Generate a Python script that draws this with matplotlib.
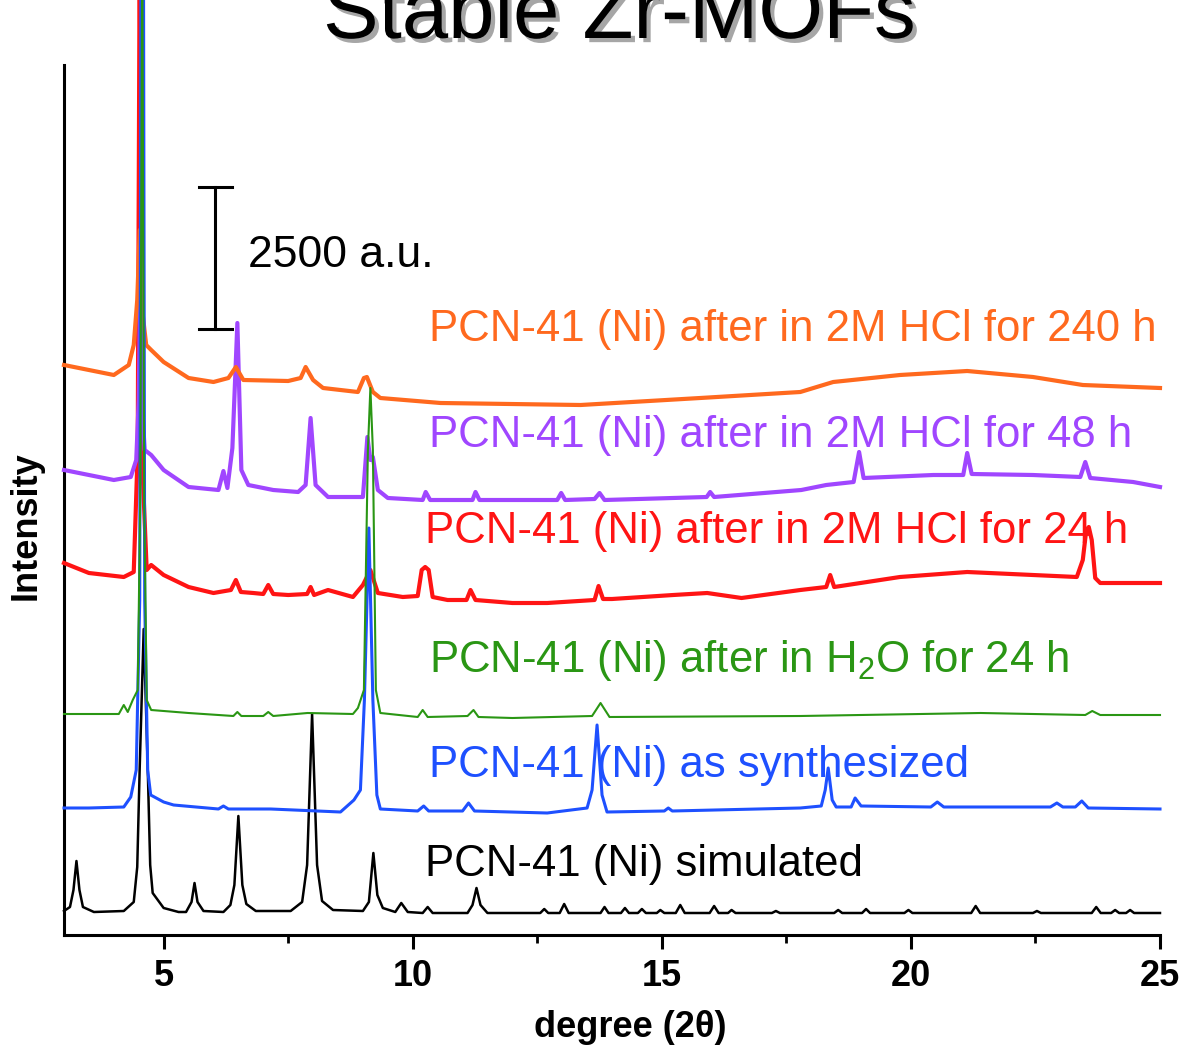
import matplotlib

matplotlib.use("Agg")
import matplotlib.patheffects as pe
import matplotlib.pyplot as plt
from matplotlib.ticker import MultipleLocator

plt.rcParams["font.family"] = ["Liberation Sans", "DejaVu Sans"]
plt.rcParams["mathtext.fontset"] = "custom"
plt.rcParams["mathtext.rm"] = "Liberation Sans"

# Stacked PXRD patterns as (2theta, intensity) points.
# Intensity is in plot units; the scale bar (142 units) is 2500 a.u.
# Apex values above ~935 are peaks that run off the top of the slide.
sim_pts = [
    (3.0, 24), (3.12, 28), (3.19, 45), (3.25, 74), (3.31, 45), (3.38, 28), (3.6, 23),
    (4.2, 24), (4.40, 33), (4.47, 68), (4.52, 168), (4.60, 306), (4.68, 168), (4.73, 70),
    (4.78, 42), (5.0, 27), (5.3, 23), (5.45, 23), (5.56, 33), (5.62, 52), (5.68, 33),
    (5.8, 24), (6.2, 23), (6.34, 30), (6.42, 50), (6.50, 119), (6.58, 50), (6.66, 31),
    (6.85, 24), (7.55, 24), (7.78, 33), (7.88, 70), (7.98, 221), (8.08, 70), (8.18, 34),
    (8.4, 25), (9.0, 24), (9.12, 33), (9.21, 82), (9.29, 40), (9.4, 27), (9.65, 23),
    (9.77, 32), (9.9, 23), (10.2, 22), (10.30, 28), (10.4, 22), (11.1, 22), (11.2, 30),
    (11.28, 47), (11.36, 30), (11.5, 22), (12.56, 22), (12.64, 26), (12.72, 22),
    (12.95, 22), (13.04, 31), (13.13, 22), (13.77, 22), (13.85, 28), (13.93, 22),
    (14.18, 22), (14.26, 27), (14.34, 22), (14.52, 22), (14.6, 26), (14.68, 22),
    (14.9, 22), (14.97, 25), (15.05, 22), (15.28, 22), (15.37, 30), (15.46, 22),
    (15.96, 22), (16.05, 29), (16.14, 22), (16.33, 22), (16.4, 25), (16.48, 22),
    (17.21, 22), (17.29, 24), (17.37, 22), (18.46, 22), (18.54, 25), (18.62, 22),
    (19.02, 22), (19.1, 26), (19.18, 22), (19.87, 22), (19.95, 25), (20.03, 22),
    (21.21, 22), (21.3, 29), (21.39, 22), (22.45, 22), (22.53, 24), (22.61, 22),
    (23.63, 22), (23.72, 28), (23.81, 22), (24.02, 22), (24.1, 25), (24.18, 22),
    (24.32, 22), (24.4, 25), (24.48, 22), (25.0, 22),
]

synth_pts = [
    (3.0, 127), (3.5, 127), (4.2, 128), (4.34, 138), (4.45, 165), (4.52, 335),
    (4.545, 1000), (4.595, 1000), (4.62, 335), (4.68, 165), (4.74, 140), (5.0, 133),
    (5.2, 130), (6.1, 126), (6.2, 129), (6.3, 126), (7.15, 126), (8.55, 123),
    (8.82, 135), (8.95, 145), (9.03, 235), (9.12, 407), (9.20, 235), (9.28, 140),
    (9.35, 126), (10.1, 124), (10.22, 129), (10.32, 124), (11.0, 124), (11.12, 132),
    (11.24, 124), (12.7, 122), (13.5, 127), (13.6, 145), (13.70, 210), (13.80, 140),
    (13.9, 123), (15.05, 124), (15.13, 127), (15.21, 124), (17.78, 127), (18.2, 129),
    (18.28, 145), (18.34, 167), (18.42, 135), (18.5, 128), (18.8, 128), (18.88, 137),
    (19.0, 129), (20.4, 128), (20.53, 133), (20.66, 128), (22.8, 128), (22.93, 132),
    (23.05, 128), (23.3, 128), (23.43, 134), (23.56, 127), (25.0, 126),
]

h2o_pts = [
    (3.0, 221), (4.1, 221), (4.2, 230), (4.28, 223), (4.38, 235), (4.48, 245),
    (4.53, 435), (4.57, 1000), (4.61, 435), (4.66, 235), (4.75, 225), (5.5, 222),
    (6.4, 219), (6.48, 223), (6.56, 219), (7.0, 219), (7.1, 223), (7.2, 219),
    (7.89, 222), (8.8, 221), (8.9, 227), (9.02, 245), (9.10, 485), (9.15, 547),
    (9.20, 485), (9.26, 245), (9.35, 222), (10.1, 218), (10.2, 225), (10.3, 218),
    (11.1, 219), (11.22, 225), (11.32, 218), (12.0, 217), (13.6, 219), (13.77, 232),
    (13.95, 218), (17.78, 219), (21.4, 222), (23.5, 220), (23.64, 224), (23.8, 220),
    (25.0, 220),
]

hcl24_pts = [
    (3.0, 372), (3.5, 362), (4.2, 358), (4.4, 363), (4.48, 485), (4.52, 1000),
    (4.56, 485), (4.66, 365), (4.75, 370), (5.0, 360), (5.5, 348), (6.0, 342),
    (6.35, 345), (6.45, 355), (6.55, 343), (6.8, 342), (7.0, 341), (7.1, 350),
    (7.2, 341), (7.5, 340), (7.88, 341), (7.95, 348), (8.02, 340), (8.3, 345),
    (8.8, 338), (9.0, 350), (9.15, 365), (9.3, 342), (9.8, 338), (10.1, 339),
    (10.18, 365), (10.25, 368), (10.32, 365), (10.4, 338), (10.7, 335), (11.08, 335),
    (11.16, 345), (11.26, 335), (12.0, 332), (12.7, 332), (13.65, 335), (13.73, 349),
    (13.82, 336), (14.0, 336), (15.23, 340), (15.91, 342), (16.6, 337), (17.78, 345),
    (18.3, 348), (18.38, 360), (18.46, 348), (19.78, 358), (21.13, 363), (22.45, 360),
    (23.33, 358), (23.45, 375), (23.52, 405), (23.57, 408), (23.63, 395), (23.7, 357),
    (23.8, 352), (25.0, 352),
]

hcl48_pts = [
    (3.0, 465), (3.5, 460), (4.0, 455), (4.34, 458), (4.45, 475), (4.50, 535),
    (4.53, 645), (4.56, 535), (4.62, 485), (4.75, 480), (5.0, 465), (5.5, 448),
    (6.1, 445), (6.2, 464), (6.28, 447), (6.38, 487), (6.48, 612), (6.56, 465),
    (6.7, 450), (7.2, 445), (7.7, 443), (7.85, 450), (7.95, 517), (8.05, 450),
    (8.3, 438), (9.0, 438), (9.09, 498), (9.15, 475), (9.2, 478), (9.3, 445),
    (9.5, 437), (10.2, 435), (10.26, 443), (10.35, 435), (11.2, 435), (11.26, 443),
    (11.34, 435), (12.9, 435), (12.98, 442), (13.06, 435), (13.65, 436), (13.75, 442),
    (13.85, 435), (15.9, 438), (15.97, 443), (16.05, 438), (17.8, 445), (18.3, 450),
    (18.85, 453), (18.96, 483), (19.05, 457), (20.45, 460), (21.05, 460), (21.13, 482),
    (21.22, 461), (22.45, 460), (23.4, 458), (23.5, 473), (23.6, 457), (24.46, 453),
    (25.0, 448),
]

hcl240_pts = [
    (3.0, 570), (3.5, 565), (4.0, 560), (4.3, 570), (4.4, 590), (4.47, 635),
    (4.52, 705), (4.57, 625), (4.65, 590), (4.75, 585), (5.0, 573), (5.5, 557),
    (6.0, 553), (6.3, 557), (6.45, 568), (6.6, 555), (7.5, 554), (7.75, 557),
    (7.85, 568), (8.0, 555), (8.2, 547), (8.9, 543), (9.02, 557), (9.08, 558),
    (9.2, 543), (9.35, 537), (10.56, 532), (13.37, 530), (15.77, 537), (17.78, 543),
    (18.44, 553), (19.78, 560), (21.13, 564), (22.45, 558), (23.45, 550), (25.0, 547),
]

labels = [
    "PCN-41 (Ni) simulated",
    "PCN-41 (Ni) as synthesized",
    r"PCN-41 (Ni) after in H$_\mathregular{2}$O for 24 h",
    "PCN-41 (Ni) after in 2M HCl for 24 h",
    "PCN-41 (Ni) after in 2M HCl for 48 h",
    "PCN-41 (Ni) after in 2M HCl for 240 h",
]
series = [sim_pts, synth_pts, h2o_pts, hcl24_pts, hcl48_pts, hcl240_pts]
colors = ["black", "#1E50FF", "#2A9614", "#FF1414", "#A046FF", "#FF691E"]

scale_bar_au = 2500
scale_bar_units = 142

fig = plt.figure(figsize=(11.85, 10.5), dpi=100)
ax = fig.add_axes([64 / 1185, 115 / 1050, 1096 / 1185, 870 / 1050])

# draw order and line widths (smooth vs noisy traces)
zorders = [2, 4, 5, 3, 3, 3]
widths = [1.8, 2.2, 1.5, 3.0, 3.0, 3.0]
label_x = [10.24, 10.32, 10.32, 10.24, 10.32, 10.32]
label_y = [59, 158, 263, 392, 488, 594]

for pts, col, z, lw in zip(series, colors, zorders, widths):
    x, y = zip(*pts)
    ax.plot(x, y, color=col, lw=lw, zorder=z, clip_on=False, solid_joinstyle="round")

for txt, col, lx, ly in zip(labels, colors, label_x, label_y):
    ax.text(lx, ly, txt, color=col, fontsize=31.5, ha="left", va="baseline", zorder=6)

# scale bar
bx, b0 = 6.04, 606
ax.plot([bx, bx], [b0, b0 + scale_bar_units], color="black", lw=2.2)
ax.plot([bx - 0.34, bx + 0.34], [b0, b0], color="black", lw=2.2)
ax.plot([bx - 0.34, bx + 0.34], [b0 + scale_bar_units] * 2, color="black", lw=2.2)
ax.text(6.7, 668, f"{scale_bar_au} a.u.", fontsize=32, ha="left", va="baseline")

ax.set_xlim(3, 25)
ax.set_ylim(0, 870)
ax.set_xticks([5, 10, 15, 20, 25])
ax.xaxis.set_minor_locator(MultipleLocator(2.5))
ax.set_yticks([])
ax.tick_params(axis="x", which="major", length=10, width=2.2, pad=7, labelsize=26)
ax.tick_params(axis="x", which="minor", length=6, width=2.0)
for lab in ax.get_xticklabels():
    lab.set_fontweight("bold")
for side in ["top", "right"]:
    ax.spines[side].set_visible(False)
for side in ["left", "bottom"]:
    ax.spines[side].set_linewidth(2.2)

ax.set_xlabel("degree (2θ)", fontsize=26, fontweight="bold")
ax.xaxis.set_label_coords(0.517, -0.086)
ax.set_ylabel("Intensity", fontsize=26, fontweight="bold")
ax.yaxis.set_label_coords(-0.019, 0.471)

# slide title, cut off by the top edge of the slide crop
fig.text(0.523, 1 - 38 / 1050, "Stable Zr-MOFs", fontsize=60, ha="center", va="baseline",
         path_effects=[pe.withSimplePatchShadow(offset=(3, -3), shadow_rgbFace="gray", alpha=0.7)])

fig.savefig("out.png", dpi=100)
